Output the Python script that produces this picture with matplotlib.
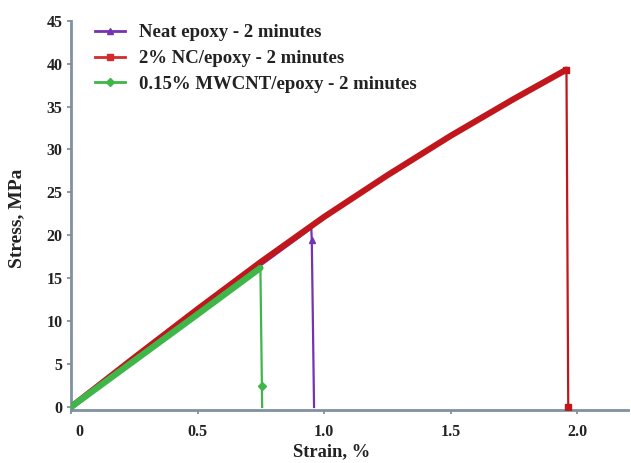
import matplotlib
matplotlib.use("Agg")
import matplotlib.pyplot as plt
import matplotlib.transforms as mtransforms

# ---- data ----
nc_strain = [0.0, 0.25, 0.5, 0.75, 1.0, 1.25, 1.5, 1.75, 1.957]
nc_stress = [0.0, 5.75, 11.4, 16.9, 22.15, 27.0, 31.6, 35.9, 39.3]
nc_drop_strain = [1.957, 1.964]
nc_drop_stress = [39.3, 0.0]

neat_strain = [0.0, 0.25, 0.5, 0.75, 0.949]
neat_stress = [0.0, 5.6, 11.2, 16.6, 20.9]
neat_drop_strain = [0.949, 0.951, 0.96]
neat_drop_stress = [20.9, 19.5, 0.0]

mw_strain = [0.0, 0.25, 0.5, 0.748]
mw_stress = [0.0, 5.4, 10.8, 16.2]
mw_drop_strain = [0.748, 0.754, 0.755]
mw_drop_stress = [16.2, 2.5, 0.0]

labels = ["Neat epoxy - 2 minutes", "2% NC/epoxy - 2 minutes",
          "0.15% MWCNT/epoxy - 2 minutes"]
xticks = [0, 0.5, 1.0, 1.5, 2.0]
xticklabels = ["0", "0.5", "1.0", "1.5", "2.0"]
yticks = list(range(0, 50, 5))

purple = "#7433b0"
red = "#c0161c"
green = "#3fb649"
spine = "#7f929f"
txt = "#222222"

plt.rcParams["font.family"] = ["Liberation Serif", "DejaVu Serif"]
plt.rcParams["font.weight"] = "bold"

W, H = 631, 463
fig = plt.figure(figsize=(W / 100, H / 100), dpi=100)
ax = fig.add_axes([71 / W, 1 - 410 / H, 557 / W, (410 - 20.7) / H])

# neat epoxy
ax.plot(neat_strain, neat_stress, color=purple, lw=2.5, solid_capstyle="round", zorder=2)
ax.plot(neat_drop_strain, neat_drop_stress, color=purple, lw=1.6, zorder=2)
ax.plot(neat_drop_strain[1:2], neat_drop_stress[1:2], marker="^", ms=5, color=purple, zorder=2)
# NC
ax.plot(nc_strain, nc_stress, color=red, lw=4.4, solid_capstyle="round",
        solid_joinstyle="round", zorder=3)
ax.plot(nc_drop_strain, nc_drop_stress, color=red, lw=1.6, zorder=3)
ax.plot(nc_drop_strain[-1:], nc_drop_stress[-1:], marker="s", ms=4.5, color=red, zorder=3)
ax.plot(nc_drop_strain[:1], nc_drop_stress[:1], marker="s", ms=5, color=red, zorder=3)
# MWCNT
ax.plot(mw_strain, mw_stress, color=green, lw=4.6, solid_capstyle="round", zorder=4)
ax.plot(mw_drop_strain, mw_drop_stress, color=green, lw=1.6, zorder=4)
ax.plot(mw_drop_strain[1:2], mw_drop_stress[1:2], marker="D", ms=4.5, color=green, zorder=4)

# legend handles
h1, = ax.plot([], [], color=purple, lw=2, marker="^", ms=5)
h2, = ax.plot([], [], color="#d42a2a", lw=2, marker="s", ms=4)
h3, = ax.plot([], [], color=green, lw=2, marker="D", ms=4)
leg = fig.legend([h1, h2, h3], labels, loc="upper left",
                 bbox_to_anchor=(95 / W, 1 - 24 / H), bbox_transform=fig.transFigure,
                 frameon=False, prop={"size": 13.5, "weight": "bold"},
                 handlelength=1.6, handletextpad=0.75, labelspacing=0.47,
                 borderaxespad=0.0, borderpad=0.0)
for t in leg.get_texts():
    t.set_color(txt)

ax.set_xlim(0.0, 2.2)
ax.set_ylim(-0.35, 45)
ax.set_xticks(xticks)
ax.set_xticklabels(xticklabels)
ax.set_yticks(yticks)
for s in ["top", "right"]:
    ax.spines[s].set_visible(False)
for s in ["left", "bottom"]:
    ax.spines[s].set_color(spine)
    ax.spines[s].set_linewidth(2)
ax.tick_params(axis="both", colors=spine, width=1.3, length=3, labelsize=11.5,
               labelcolor=txt)
ax.tick_params(axis="x", pad=7)
ax.tick_params(axis="y", pad=3)

# the "0" strain label sits a little right of its tick in the reference
lbl0 = ax.get_xticklabels()[0]
lbl0.set_transform(lbl0.get_transform() +
                   mtransforms.ScaledTranslation(8 / 100, 0, fig.dpi_scale_trans))

fig.text(332 / W, 1 - 452 / H, "Strain, %", fontsize=13.3, fontweight="bold",
         color=txt, ha="center", va="center")
fig.text(17 / W, 1 - 218 / H, "Stress, MPa", fontsize=14, fontweight="bold",
         color=txt, ha="center", va="center", rotation=90)

fig.savefig("out.png", dpi=100)
